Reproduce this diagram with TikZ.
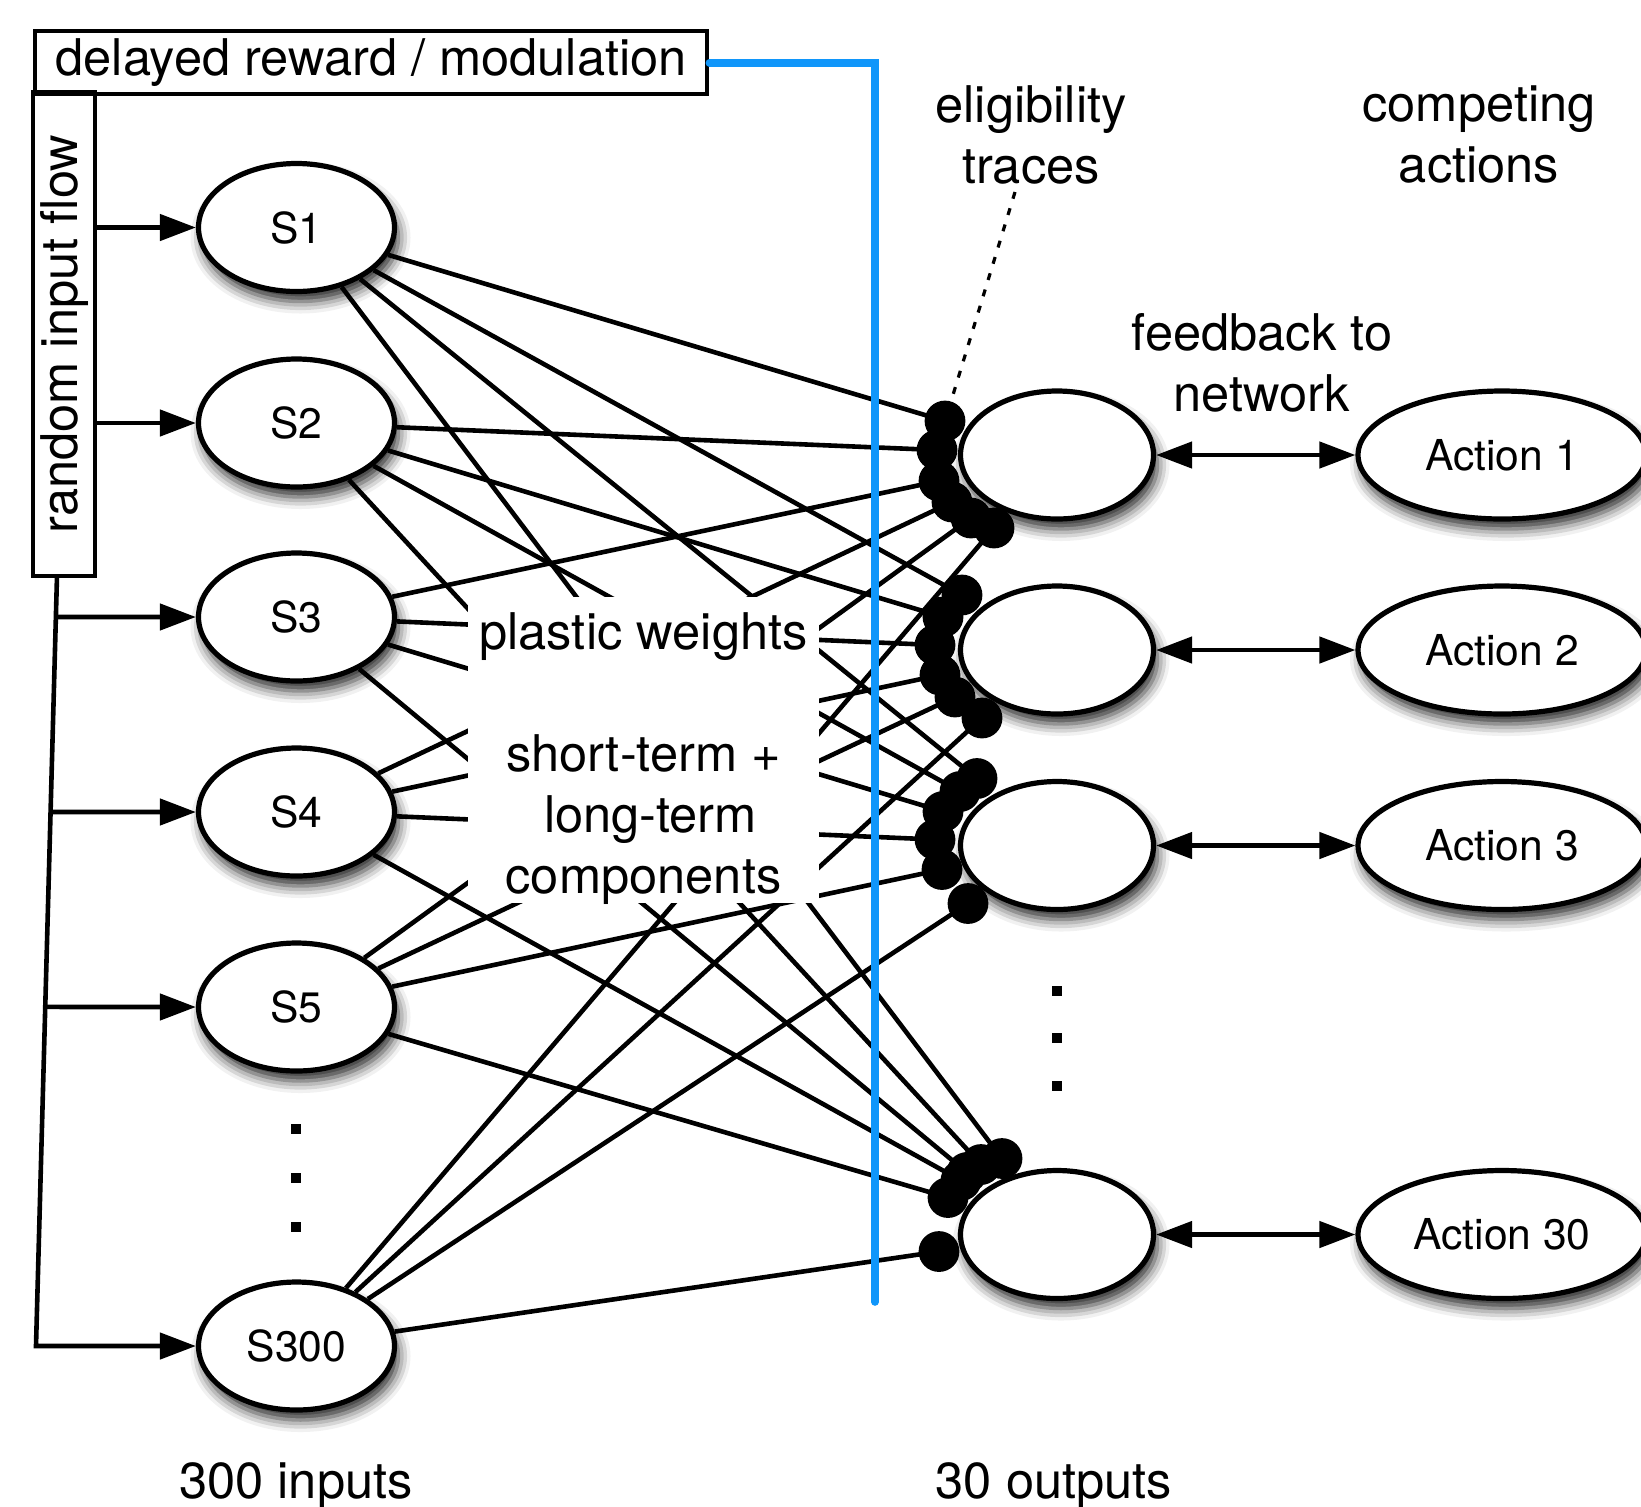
\documentclass[tikz,border=0pt]{standalone}
\usepackage{fontspec}
\setmainfont{TeX Gyre Heros}
\usetikzlibrary{shapes.geometric,arrows.meta,shadows.blur,backgrounds,calc}

\definecolor{modblue}{RGB}{16,150,250}

\tikzset{
  unit/.style={ellipse, draw, fill=white, line width=2.6pt, inner sep=0pt,
    blur shadow={shadow xshift=2pt, shadow yshift=-5pt, shadow blur radius=6pt, shadow opacity=85},
    font=\fontsize{21.3}{25}\selectfont},
  innode/.style={unit, minimum width=98pt, minimum height=64pt},
  outnode/.style={unit, minimum width=96.5pt, minimum height=64pt},
  actnode/.style={unit, minimum width=144pt, minimum height=64pt},
  labelbox/.style={draw, line width=2.2pt, inner sep=0pt},
  wire/.style={line width=2.3pt},
  feed/.style={line width=2.3pt, -{Triangle[length=18pt,width=13pt]}},
  duplex/.style={line width=2.3pt, {Triangle[length=18pt,width=13pt]}-{Triangle[length=18pt,width=13pt]}},
  trace/.style={line width=1.6pt, dash pattern=on 3.5pt off 5pt},
  modline/.style={line width=3.8pt, modblue, line cap=round},
}

\begin{document}
\begin{tikzpicture}[x=0.5pt, y=-0.5pt, font=\fontsize{25.3}{30.5}\selectfont]
\useasboundingbox (0,0) rectangle (1641,1506);

% boxes on the left
\node[labelbox, anchor=north west, minimum width=336pt, minimum height=31.5pt] (drm) at (33,29) {delayed reward / modulation};
\node[labelbox, rotate=90, minimum width=242pt, minimum height=31pt] (rif) at (64,334) {random input flow};

% input units
\node[innode] (s1) at (296.5,227.5) {S1};
\node[innode] (s2) at (296.5,423) {S2};
\node[innode] (s3) at (296.5,617) {S3};
\node[innode] (s4) at (296.5,812) {S4};
\node[innode] (s5) at (296.5,1007) {S5};
\node[innode] (s300) at (296.5,1346) {S300};
\foreach \y in {1129,1178,1227}
  \fill (291,\y-5) rectangle +(10,10);

% output units and actions
\foreach \o/\y in {1/455,2/650,3/845.5,30/1234.5}{
  \node[outnode] (o\o) at (1057,\y) {};
  \node[actnode] (a\o) at (1502,\y) {Action \o};
  \draw[duplex] (o\o) -- (a\o);
}
\foreach \y in {991,1038,1086}
  \fill (1052,\y-5) rectangle +(10,10);

% labels
\node[align=center] (elig) at (1031,134.5) {eligibility\\traces};
\node[align=center] (comp) at (1479,134.5) {competing\\actions};
\node[align=center] (fbk) at (1262,363) {feedback to\\network};
\node[anchor=base] (nin) at (296,1498) {300 inputs};
\node[anchor=base] (nout) at (1054,1498) {30 outputs};
\node[fill=white, minimum width=175.5pt, minimum height=153pt, inner sep=0pt] (pw) at (643.5,750) {};
\node[align=center, inner sep=0pt] (pwtext) at ($(pw)+(0,8.5)$)
  {plastic weights\\[30.5pt]short-term +\\\hspace*{7pt}long-term\\components};

% synapse positions
\foreach \k/\dx/\dy in {1/-112/-34, 2/-120/-5, 3/-118/26, 4/-105/47, 5/-86/63, 6/-63/73}
  \coordinate (o1-\k) at ($(o1)+(\dx,\dy)$);
\foreach \k/\dx/\dy in {1/-95/-55, 2/-114/-33, 3/-122/-5, 4/-117/25, 5/-102/47, 6/-75/68}
  \coordinate (o2-\k) at ($(o2)+(\dx,\dy)$);
\foreach \k/\dx/\dy in {1/-80/-67, 2/-97/-54, 3/-114/-34, 4/-122/-6, 5/-115/24, 6/-89/58}
  \coordinate (o3-\k) at ($(o3)+(\dx,\dy)$);
\foreach \k/\dx/\dy in {1/-55/-76, 2/-76/-70, 3/-90/-62, 4/-96/-54, 5/-109/-37, 6/-118/17}
  \coordinate (o30-\k) at ($(o30)+(\dx,\dy)$);
\coordinate (eltip) at (1015,192);

% input flow
\coordinate (ftop) at (57,576);
\coordinate (fbot) at (36,1346);
\draw[feed] (ftop) -- (fbot) -- (s300.west);
\foreach \s in {3,4,5}
  \draw[feed] (intersection of ftop--fbot and s\s.west--s\s.center) -- (s\s.west);
\draw[feed] (rif.south |- s1.west) -- (s1.west);
\draw[feed] (rif.south |- s2.west) -- (s2.west);

% modulation
\coordinate (modend) at (875,1302);
\draw[modline] (drm.east) -| (modend);

\begin{scope}[on background layer]
  \foreach \s/\k in {1/1,2/2,3/3,4/4,5/5,300/6}
    \foreach \o in {1,2,3,30}
      \draw[wire] (s\s) -- (o\o-\k);
  \draw[trace] (eltip) -- (o1-1);
  \foreach \o in {1,2,3,30}
    \foreach \k in {1,...,6}
      \fill (o\o-\k) circle (10.2pt);
\end{scope}
\end{tikzpicture}
\end{document}
